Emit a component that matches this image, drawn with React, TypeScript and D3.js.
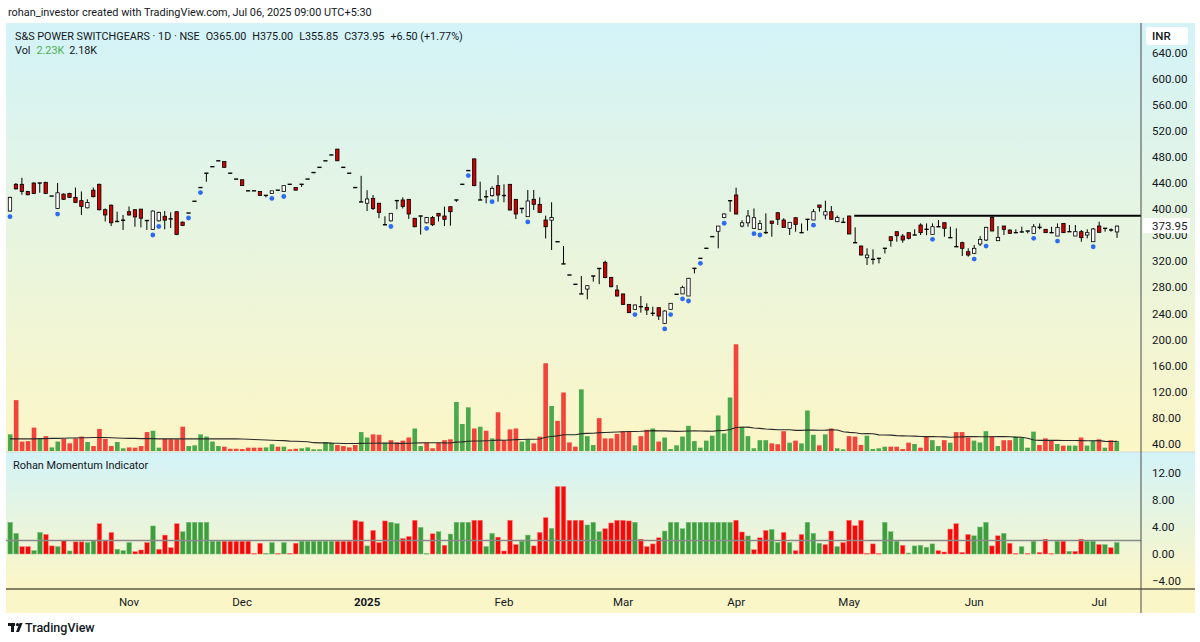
import React from "react";
import * as d3 from "d3";

const FONT = "Roboto, 'Noto Sans', 'DejaVu Sans', sans-serif";
const INK = "#131722";

// Daily candles [open, high, low, close] (Oct 2024 → Jul 2025)
const candles: [number, number, number, number][] = [
  // Oct
  [397, 419, 396, 418], [438, 440, 430, 431], [438, 448, 422, 427], [427, 428, 421, 422], [440, 441, 423, 424],
  [440, 440, 425, 440], [441, 442, 423, 424], [420, 420, 420, 420], [401, 440, 400, 425], [423, 424, 414, 415],
  [424, 425, 417, 418], [418, 433, 410, 410], [413, 427, 391, 404], [402, 415, 401, 410], [429, 433, 418, 419],
  [438, 439, 398, 399], [399, 401, 381, 391], [406, 407, 374, 379], [381, 396, 381, 381], [383, 391, 368, 383],
  // Nov
  [396, 404, 390, 391], [399, 400, 373, 388], [400, 400, 372, 386], [383, 383, 368, 382], [369, 398, 368, 397],
  [382, 396, 381, 395], [389, 397, 369, 383], [385, 395, 371, 385], [396, 397, 360, 361], [380, 381, 374, 375],
  [394, 394, 394, 394], [412, 412, 412, 412], [433, 433, 433, 433], [455, 455, 442, 455], [465, 465, 465, 465],
  [474, 474, 474, 474], [473, 473, 464, 464], [455, 455, 455, 455], [446, 446, 446, 446],
  // Dec
  [445, 445, 436, 436], [428, 428, 428, 428], [428, 428, 428, 428], [427, 427, 421, 421], [421, 421, 418, 421],
  [424, 428, 424, 428], [429, 429, 429, 429], [427, 436, 427, 436], [438, 438, 438, 438], [433, 433, 429, 429],
  [438, 438, 434, 438], [446, 446, 446, 446], [456, 456, 456, 456], [464, 464, 464, 464], [474, 474, 474, 474],
  [483, 483, 483, 483], [492, 492, 474, 474], [464, 464, 464, 464], [455, 455, 455, 455], [433, 433, 433, 433],
  [411, 451, 411, 411],
  // Jan
  [409, 429, 397, 415.5], [416.5, 421.6, 398.6, 401], [409, 409, 386, 395], [376, 389, 376, 376], [382, 394, 381, 393.5],
  [413, 413, 399.6, 413], [414, 418, 401, 404], [415, 415, 385, 392.5], [386, 386, 372, 373], [389.4, 390, 361, 389.4],
  [379, 388, 378, 387], [387, 389.4, 374, 376], [393.5, 394, 381, 389.4], [389.4, 403.7, 374, 384.3], [403.7, 404, 374.6, 396],
  [414, 414, 411, 414], [438, 438, 438, 438], [459, 459, 459, 459], [477, 477, 435, 436], [414, 442, 414, 414],
  [419, 429, 408.8, 419], [420.6, 435, 419, 431.8], [436, 452, 411.4, 421.6],
  // Feb
  [421.6, 438, 410.4, 420], [438, 438, 398, 398.6], [415, 415, 384.8, 392.5], [401, 401, 393.5, 401], [388.4, 429.3, 388, 412.4],
  [415, 429.3, 398.6, 407.3], [407.3, 418, 395, 395], [383.3, 390, 355, 373], [383, 410.4, 337.3, 387], [350, 350, 350, 350],
  [316, 343.4, 316, 316], [299, 299, 299, 299], [284.7, 284.7, 284.7, 284.7], [270, 297.5, 270, 270], [277.5, 283, 261.7, 282.6],
  [297.5, 297.5, 288.8, 297.5], [309, 309, 285, 309], [318.4, 321, 294, 295], [295.4, 296, 280, 281.1], [276, 283.7, 266, 266.8],
  // Mar
  [270, 270, 253, 254], [254, 254, 241, 241.3], [246.4, 254, 246, 253], [251.5, 266.8, 241.3, 249.4], [249.4, 255.6, 237.7, 245.3],
  [241.3, 250.4, 236.1, 239.2], [248.9, 249, 230, 236.1], [224.9, 245, 224, 243.8], [246.4, 256, 246, 255.6], [269.4, 269.4, 269.4, 269.4],
  [270, 282.6, 270, 280.1], [266.8, 294.5, 266.8, 294], [309.2, 309.2, 301.5, 309.2], [324.5, 324.5, 324.5, 324.5], [339.9, 339.9, 339.9, 339.9],
  [357.8, 357.8, 357.8, 357.8], [366, 374, 339.9, 374], [387, 393.5, 386, 392.5], [412.9, 412.9, 396, 412.9],
  // Apr
  [421.6, 432.8, 392, 392.5], [374, 383, 372, 379], [379, 398.6, 373, 389.4], [370.5, 401, 370, 386.8], [369, 383, 368, 378],
  [364, 393.5, 362, 364], [381.7, 381.7, 357.7, 378], [394.5, 395, 375.6, 384.3], [383.3, 386, 372, 372], [370.5, 380, 360.3, 379.7],
  [386.8, 387, 365.4, 376.6], [363.9, 378, 363.9, 363.9], [384.3, 384.3, 367, 384.3], [383.3, 400, 383, 396], [406.3, 406.3, 396, 402.7],
  [390.9, 412.9, 384.3, 396], [396, 404.7, 383.3, 384.3], [380.7, 390, 380, 387.3], [379.7, 386.8, 379.7, 379.7],
  // May
  [389.4, 390, 361.8, 361.8], [348.5, 372, 348.5, 348.5], [343.4, 344, 329, 329.6], [325.5, 339.9, 314.3, 329.6], [323, 338.3, 315.3, 323],
  [324.5, 324.5, 316.8, 324.5], [339.9, 339.9, 332, 339.9], [357.7, 357.7, 342.4, 351.6], [365.4, 365.4, 350, 359.2], [358.7, 361.8, 348.5, 352.6],
  [363.9, 363.9, 353.6, 355.2], [360.3, 369, 360.3, 360.3], [375.6, 378.1, 360.3, 363.9], [369, 378, 360, 369], [361.3, 378.1, 361.3, 373],
  [373, 383.3, 373, 373], [379.2, 379.2, 357.7, 370.5], [356.2, 373, 356.2, 356.2], [342.4, 370.5, 342.4, 342.4], [348.5, 350.1, 328.1, 339.9],
  [334.7, 339.9, 327.1, 329.6],
  // Jun
  [332.2, 345, 331, 339.9], [346.5, 358.7, 343.4, 353.6], [352.6, 373, 351, 372], [387.3, 389.4, 366.4, 366.4], [351.6, 374, 351, 356.7],
  [374.1, 374.1, 360.3, 369], [367.9, 369, 362, 362.8], [363.9, 369, 363.9, 363.9], [364, 373, 364, 366], [366.4, 366.4, 362.8, 366.4],
  [362.8, 377, 362.8, 373], [372, 378, 369, 372], [369, 369, 363.9, 363.9], [363.9, 373, 363.9, 363.9], [358.7, 378, 358.7, 372],
  [378.1, 378.1, 363.9, 363.9], [365.4, 375.6, 365.4, 365.4], [358.7, 375.6, 358.7, 365.4], [365.4, 368, 350, 356.2], [360.3, 369, 355.2, 363.9],
  [350, 371, 350, 369.5],
  // Jul
  [374.1, 380.7, 364.4, 364.4], [370.5, 370.5, 365.4, 370.5], [368, 370.5, 365.4, 368], [365, 375, 355.85, 373.95],
];

// Sessions that carry the blue signal dot under the low
const signalBars = [0, 8, 24, 25, 30, 32, 44, 46, 64, 70, 77, 81, 87, 105, 110, 111, 113, 114, 116, 120, 125, 126, 135, 155, 162, 164, 172, 176, 182];

// Volume in thousands of shares, with the bar colour (g = up, r = down)
const volumes = [
  3.7, 11.3, 2.1, 2.2, 5.2, 2.7, 3.3, 0.8, 2.1, 2.7,
  1.7, 2.8, 3.2, 2.0, 1.1, 4.9, 2.7, 1.1, 2.0, 0.6,
  0.8, 0.74, 1.1, 4.2, 4.5, 0.74, 2.7, 2.6, 2.6, 5.4,
  1.1, 1.26, 3.7, 3.2, 2.1, 1.1, 0.96, 0.5, 0.5, 0.44,
  0.74, 0.74, 0.74, 0.8, 1.5, 0.96, 0.96, 0.37, 0.5, 0.6,
  0.8, 0.37, 0.37, 2.0, 1.85, 1.33, 1.1, 0.8, 1.33, 4.2,
  3.0, 3.7, 3.6, 1.9, 2.4, 1.9, 2.3, 3.0, 5.0, 1.1,
  1.85, 0.6, 1.85, 2.4, 2.6, 10.9, 6.0, 9.7, 5.0, 5.4,
  4.5, 2.8, 8.6, 2.4, 4.8, 5.0, 2.1, 2.6, 1.7, 3.2,
  19.5, 10.0, 6.7, 13.0, 1.9, 0.96, 13.7, 3.3, 1.33, 7.3,
  2.8, 2.8, 3.8, 4.4, 4.4, 1.26, 3.3, 4.7, 5.0, 2.1,
  3.0, 0.44, 1.26, 3.2, 5.6, 2.2, 0.74, 2.3, 3.4, 7.9,
  3.9, 11.9, 23.7, 5.4, 3.3, 0.6, 2.4, 2.4, 1.7, 1.5,
  4.4, 1.85, 2.3, 1.7, 9.0, 3.6, 1.26, 3.7, 5.0, 0.6,
  0.37, 3.3, 3.2, 1.33, 3.4, 0.44, 0.6, 0.96, 0.96, 0.96,
  0.44, 1.85, 1.55, 0.74, 3.2, 2.4, 1.1, 2.4, 1.85, 4.2,
  4.2, 3.0, 2.3, 1.9, 4.4, 3.3, 1.1, 2.4, 2.4, 3.2,
  3.0, 0.74, 4.3, 1.33, 2.8, 2.4, 1.55, 1.2, 1.2, 1.2,
  3.0, 1.2, 2.3, 2.6, 0.74, 2.4, 2.23,
];
const volumeDir = (
  "grrrrgrggr" + "rrrgrrrrgg" + "rrrrggrrrr" + "ggggggrrrr" + "rrrggrgrrg" +
  "gggggrrrrg" + "grrgrrrrgg" + "rrrrrgggrg" + "rgrrrrggrr" + "rgrrrrgggr" +
  "rrrrrgrrgr" + "gggggggggg" + "ggrgggggrr" + "rgrgggrgrg" + "grrrggggrr" +
  "rrgrrggrgr" + "rrgggrgrrg" + "gggrrrgrgg" + "rggrgrg"
).split("");
// Volume MA before a full 50-session window exists
const volumeMaHead = [
  2.7, 2.7, 2.7, 2.7, 2.7, 2.75, 2.75, 2.8, 2.8, 2.85,
  2.9, 2.9, 2.95, 2.95, 3.0, 3.0, 3.0, 2.95, 2.9, 2.85,
  2.8, 2.8, 2.75, 2.75, 2.75, 2.7, 2.7, 2.7, 2.7, 2.7,
  2.7, 2.7, 2.7, 2.7, 2.7, 2.7, 2.7, 2.7, 2.7, 2.65,
  2.6, 2.55, 2.5, 2.45, 2.4, 2.35, 2.3, 2.2, 2.15,
];
const MA_LEN = 50;

// Rohan Momentum Indicator histogram
const momentum = [
  4.7, 3.06, 1.1, 1.1, 0.5, 3.2, 2.9, 1.2, 1.1, 2.0,
  0.45, 1.8, 1.8, 1.7, 2.0, 4.5, 2.0, 3.2, 0.7, 0.5,
  1.7, 0.35, 0.6, 1.7, 4.15, 0.7, 2.8, 0.94, 4.5, 3.3,
  4.7, 4.7, 4.7, 4.7, 1.9, 1.9, 1.9, 1.9, 1.9, 1.9,
  1.9, 0.1, 1.6, 0.1, 1.7, 0.1, 1.7, 0.1, 1.6, 1.9,
  1.9, 1.9, 1.9, 1.9, 1.9, 1.9, 1.9, 1.9, 5.0, 4.8,
  1.2, 3.5, 1.7, 4.9, 4.7, 4.5, 2.3, 2.6, 5.0, 3.95,
  0.1, 3.0, 3.3, 1.3, 2.96, 4.7, 4.7, 4.7, 5.0, 5.0,
  1.1, 3.06, 2.5, 0.45, 5.0, 1.4, 1.9, 2.8, 1.2, 3.2,
  5.4, 3.8, 10, 10, 5.0, 5.0, 5.0, 4.3, 4.7, 3.3,
  3.75, 4.6, 5.0, 5.0, 4.9, 4.7, 2.2, 1.1, 1.5, 2.4,
  3.4, 4.7, 4.7, 3.75, 4.7, 4.7, 4.7, 4.7, 4.7, 4.7,
  4.7, 4.7, 5.0, 3.26, 2.67, 0.64, 2.4, 3.5, 3.65, 1.7,
  3.2, 1.7, 0.5, 2.9, 4.7, 3.06, 1.6, 1.4, 3.4, 1.1,
  1.7, 5.0, 4.2, 5.0, 0.1, 1.5, 0.1, 4.7, 3.3, 1.9,
  1.3, 0.15, 1.2, 1.3, 1.0, 1.5, 0.5, 0.3, 3.7, 4.5,
  0.25, 2.9, 2.7, 4.0, 4.7, 1.2, 2.7, 3.06, 1.6, 0.1,
  1.1, 0.1, 1.9, 0.25, 2.2, 0.1, 1.9, 1.9, 0.4, 0.4,
  2.2, 1.9, 1.9, 1.4, 1.4, 0.94, 1.7,
];
const momentumDir = (
  "ggrrggrrgr" + "grrggrrrgg" + "grrrgrrrrg" + "ggggggrrrr" + "rrrggrgrrg" +
  "gggggrrrrr" + "grrrggrrrg" + "grgrggggrr" + "ggrrrrggrr" + "rgrrrrrggg" +
  "rrrrrgrrrr" + "gggggggggg" + "ggrrgrrrgg" + "rgrrgggrrg" + "rrrrrrrggg" +
  "rgggggrrrr" + "rrgggrrgrr" + "grgrrrgrgr" + "rggrgrg"
).split("");
const MOMENTUM_REF = 2;

// Axes
const priceTicks = [40, 80, 120, 160, 200, 240, 280, 320, 360, 400, 440, 480, 520, 560, 600, 640];
const momentumTicks = [12, 8, 4, 0, -4];
const monthTicks = [
  { bar: 20, label: "Nov" }, { bar: 39, label: "Dec" }, { bar: 60, label: "2025", bold: true },
  { bar: 83, label: "Feb" }, { bar: 103, label: "Mar" }, { bar: 122, label: "Apr" },
  { bar: 141, label: "May" }, { bar: 162, label: "Jun" }, { bar: 183, label: "Jul" },
];

// Horizontal level drawn on the chart
const LEVEL = 390;
const LEVEL_FROM = 141;
const LAST_CLOSE = 373.95;

// Layout
const LEFT = 6;
const PLOT_R = 1141;
const RIGHT = 1195;
const TOP = 23;
const MAIN_B = 452;
const IND_B = 589;
const AXIS_B = 613;

export default function App() {
  const n = candles.length;
  const x = d3.scaleBand<number>().domain(d3.range(n)).range([7, 1120]).paddingInner(0.3).paddingOuter(0.15);
  const xv = x.copy().paddingInner(0.22);
  const cx = (i: number) => (x(i) ?? 0) + x.bandwidth() / 2;

  const y = d3.scaleLinear().domain([40, 640]).range([444, 52.5]);
  const yv = d3.scaleLinear().domain([0, 24]).range([451, 343]);
  const ym = d3.scaleLinear().domain([-4, 12]).range([581, 473]);

  const volumeMa = volumes.map((_, i) =>
    i < MA_LEN - 1 ? volumeMaHead[i] : (d3.mean(volumes.slice(i - MA_LEN + 1, i + 1)) ?? 0)
  );
  const maPath = d3.line<number>().x((_, i) => cx(i)).y((v) => yv(v))(volumeMa) ?? "";

  const bw = x.bandwidth();
  const vbw = xv.bandwidth();

  return (
    <svg width={1200} height={642} style={{ position: "absolute", left: 0, top: 0, background: "#fff" }} fontFamily={FONT}>
      <defs>
        <linearGradient id="gMain" gradientUnits="userSpaceOnUse" x1="0" y1={TOP} x2="0" y2={MAIN_B}>
          <stop offset="0" stopColor="#d3f3f8" />
          <stop offset="1" stopColor="#fcf6c6" />
        </linearGradient>
        <linearGradient id="gInd" gradientUnits="userSpaceOnUse" x1="0" y1={MAIN_B} x2="0" y2={IND_B}>
          <stop offset="0" stopColor="#d3f3f8" />
          <stop offset="1" stopColor="#fcf6c6" />
        </linearGradient>
      </defs>

      <rect width={1200} height={642} fill="#fff" />
      <text x={8} y={16} fontSize={10.9} fill={INK}>
        rohan_investor created with TradingView.com, Jul 06, 2025 09:00 UTC+5:30
      </text>

      {/* pane backgrounds */}
      <rect x={LEFT} y={TOP} width={RIGHT - LEFT} height={MAIN_B - TOP} fill="url(#gMain)" />
      <rect x={LEFT} y={MAIN_B} width={RIGHT - LEFT} height={IND_B - MAIN_B} fill="url(#gInd)" />
      <rect x={LEFT} y={IND_B} width={RIGHT - LEFT} height={AXIS_B - IND_B} fill="#fbf6c8" />

      {/* volume */}
      {volumes.map((v, i) => (
        <rect key={"v" + i} x={xv(i)} y={yv(v)} width={vbw} height={yv(0) - yv(v)}
          fill={volumeDir[i] === "g" ? "#4aa84d" : "#f2443a"} />
      ))}
      <path d={maPath} fill="none" stroke="#2a2a2a" strokeWidth={1.1} />

      {/* level */}
      <line x1={cx(LEVEL_FROM) + 5} x2={PLOT_R} y1={y(LEVEL)} y2={y(LEVEL)} stroke="#000" strokeWidth={2} />

      {/* candles */}
      {candles.map(([o, h, l, c], i) => {
        const x0 = x(i) ?? 0;
        const top = y(Math.max(o, c));
        const bot = y(Math.min(o, c));
        const flat = bot - top < 1.5;
        return (
          <g key={"c" + i}>
            {h !== l && <line x1={cx(i)} x2={cx(i)} y1={y(h)} y2={y(l)} stroke="#000" strokeWidth={1} />}
            {flat ? (
              <line x1={x0} x2={x0 + bw} y1={(top + bot) / 2} y2={(top + bot) / 2} stroke="#000" strokeWidth={1.4} />
            ) : (
              <rect x={x0 + 0.4} y={top} width={bw - 0.8} height={bot - top}
                fill={c > o ? "#ffffff" : "#d00000"} stroke="#000" strokeWidth={0.8} />
            )}
          </g>
        );
      })}
      {signalBars.map((i) => (
        <circle key={"s" + i} cx={cx(i)} cy={y(candles[i][2]) + 5} r={2.4} fill="#2e6bf0" />
      ))}

      {/* header */}
      <text x={15} y={40} fontSize={10.8} fill={INK}>
        <tspan>S&amp;S POWER SWITCHGEARS · 1D · NSE</tspan>
        <tspan dx={6}>O365.00</tspan>
        <tspan dx={6}>H375.00</tspan>
        <tspan dx={6}>L355.85</tspan>
        <tspan dx={6}>C373.95</tspan>
        <tspan dx={6}>+6.50 (+1.77%)</tspan>
      </text>
      <text x={15} y={54} fontSize={10.8} fill={INK}>
        <tspan>Vol</tspan>
        <tspan dx={6} fill="#4caf50">2.23K</tspan>
        <tspan dx={5}>2.18K</tspan>
      </text>

      {/* momentum pane */}
      <line x1={LEFT} x2={RIGHT} y1={MAIN_B} y2={MAIN_B} stroke="#cfd8d8" strokeWidth={1} />
      <text x={13} y={469} fontSize={10.9} fill={INK}>Rohan Momentum Indicator</text>
      {momentum.map((v, i) => (
        <rect key={"m" + i} x={xv(i)} y={ym(v)} width={vbw} height={Math.max(0.8, ym(0) - ym(v))}
          fill={momentumDir[i] === "g" ? "#3f9d3f" : "#f50a0a"}
          stroke={momentumDir[i] === "g" ? "#7cc47c" : "#ff8080"} strokeWidth={0.5} />
      ))}
      <line x1={LEFT} x2={PLOT_R} y1={ym(MOMENTUM_REF)} y2={ym(MOMENTUM_REF)} stroke="#8a8a8a" strokeWidth={1.4} />

      {/* frame lines */}
      <line x1={LEFT} x2={RIGHT} y1={IND_B} y2={IND_B} stroke="#5b5a45" strokeWidth={1.5} />
      <line x1={PLOT_R} x2={PLOT_R} y1={TOP} y2={AXIS_B} stroke="#4a4a4a" strokeWidth={1} />

      {/* price axis */}
      {priceTicks.map((p) => (
        <text key={"p" + p} x={1152} y={y(p)} dy="0.35em" fontSize={11.5} fill={INK}>{p.toFixed(2)}</text>
      ))}
      <rect x={1146} y={27} width={42} height={18} rx={3} fill="#fff" />
      <text x={1152} y={40} fontSize={11.5} fontWeight={500} fill={INK}>INR</text>
      <rect x={1143} y={y(LAST_CLOSE) - 8} width={47} height={15} fill="#fff" />
      <text x={1152} y={y(LAST_CLOSE)} dy="0.35em" fontSize={11.5} fill={INK}>{LAST_CLOSE.toFixed(2)}</text>

      {momentumTicks.map((v) => (
        <text key={"mt" + v} x={1152} y={ym(v)} dy="0.35em" fontSize={11.5} fill={INK}>
          {v < 0 ? "\u2212" + Math.abs(v).toFixed(2) : v.toFixed(2)}
        </text>
      ))}

      {/* time axis */}
      {monthTicks.map((m) => (
        <text key={m.label} x={cx(m.bar)} y={606} textAnchor="middle" fontSize={11.5}
          fontWeight={m.bold ? 700 : 400} fill={INK}>{m.label}</text>
      ))}

      {/* footer logo */}
      <g fill={INK}>
        <rect x={8} y={623} width={7} height={3} />
        <rect x={11} y={623} width={3} height={9} />
        <circle cx={17.5} cy={624.6} r={1.6} />
        <path d="M16 632 L19.6 623 L22.6 623 L19 632 Z" />
      </g>
      <text x={25} y={632} fontSize={12.5} fontWeight={500} fill={INK}>TradingView</text>
    </svg>
  );
}
